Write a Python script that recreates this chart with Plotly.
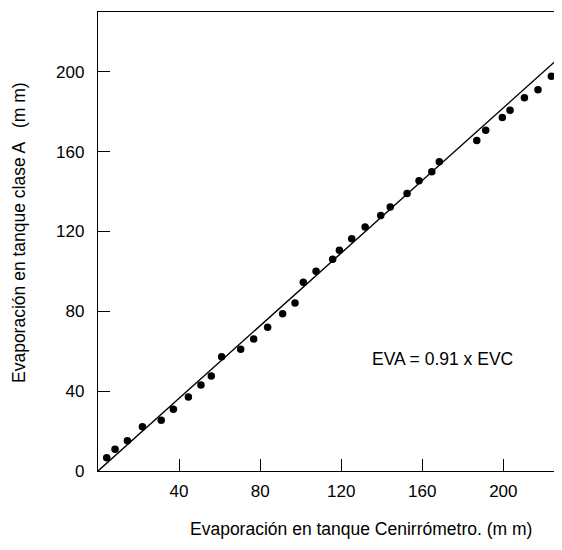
import plotly.graph_objects as go

# Data (mm)
evc = [4.3, 8.4, 14.5, 21.9, 31.2, 37.2, 44.6, 50.8, 55.9, 61.0,
       70.4, 76.8, 83.7, 91.1, 97.2, 101.3, 107.6, 115.8, 119.1, 125.2,
       131.8, 139.5, 144.2, 152.5, 158.4, 164.7, 168.4, 186.9, 191.3, 199.5,
       203.3, 210.4, 217.1, 223.7]
eva = [6.7, 10.9, 15.2, 22.2, 25.4, 30.9, 37.1, 43.1, 47.6, 57.3,
       61.0, 66.2, 72.0, 78.8, 84.2, 94.6, 100.1, 106.1, 110.6, 116.4,
       122.3, 128.0, 132.3, 139.0, 145.4, 149.9, 155.0, 165.6, 170.8, 177.1,
       180.8, 187.0, 191.1, 197.8]
slope = 0.91
line_x = [0, 226]
line_y = [slope * v for v in line_x]
x_ticks = [40, 80, 120, 160, 200]
y_ticks = [0, 40, 80, 120, 160, 200]

# page has an 8px body margin; size figure so the page needs no scrollbars
OFF = 8
W, H = 546, 534
L, R, T = 90, 0, 4
B = H - 463
pw, ph = W - L - R, H - T - B

def px(xpage):
    return (xpage - OFF - L) / pw

def py(ypage):
    return (H - B - (ypage - OFF)) / ph

font = "Liberation Sans, Arial, sans-serif"

fig = go.Figure()
fig.add_trace(go.Scatter(x=line_x, y=line_y, mode="lines",
                         line=dict(color="black", width=1.4),
                         hoverinfo="skip", showlegend=False))
fig.add_trace(go.Scatter(x=evc, y=eva, mode="markers",
                         marker=dict(color="black", size=7.5),
                         showlegend=False))

fig.update_layout(
    width=W, height=H,
    margin=dict(l=L, r=R, t=T, b=B, pad=0),
    paper_bgcolor="white", plot_bgcolor="white",
    font=dict(family=font, size=17, color="black"),
    xaxis=dict(range=[0, 225], tickvals=x_ticks, ticks="inside", ticklen=12,
               tickwidth=1.4, tickcolor="black", showline=True, linecolor="black",
               linewidth=1.4, mirror=True, showgrid=False, zeroline=False,
               tickfont=dict(size=17), ticklabelstandoff=4),
    yaxis=dict(range=[0, 230], tickvals=y_ticks, ticks="inside", ticklen=12,
               tickwidth=1.4, tickcolor="black", showline=True, linecolor="black",
               linewidth=1.4, showgrid=False, zeroline=False,
               tickfont=dict(size=17), ticklabelstandoff=9),
    annotations=[
        dict(text="EVA = 0.91 x EVC", xref="paper", yref="paper",
             x=px(442), y=py(359), showarrow=False, font=dict(size=17.5),
             xanchor="center", yanchor="middle"),
        dict(text="Evaporación en tanque Cenirrómetro. (m m)", xref="paper", yref="paper",
             x=px(361), y=py(529), showarrow=False, font=dict(size=17.5),
             xanchor="center", yanchor="middle"),
        dict(text="Evaporación en tanque clase A   (m m)", xref="paper", yref="paper",
             x=px(19), y=py(233), showarrow=False, font=dict(size=17.5),
             textangle=-90, xanchor="center", yanchor="middle"),
    ],
)

fig.write_html("out.html")
